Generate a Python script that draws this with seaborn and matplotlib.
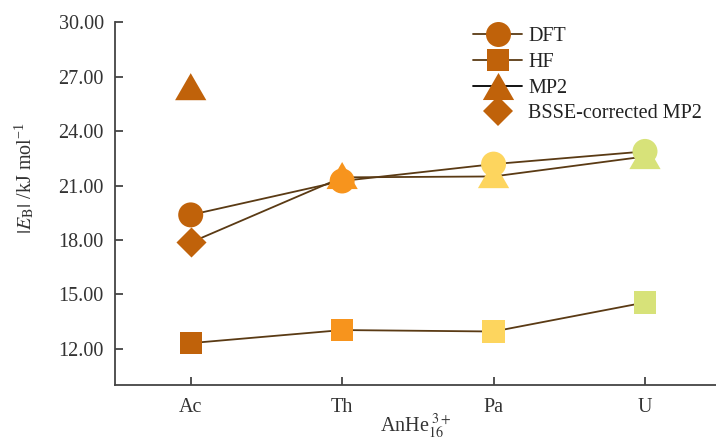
import numpy as np
import pandas as pd
import seaborn as sns
import matplotlib
matplotlib.use("Agg")
import matplotlib.pyplot as plt
from matplotlib.lines import Line2D

# Binding energies |E_B| (kJ/mol) of AnHe16(3+) clusters
elements = ["Ac", "Th", "Pa", "U"]
dft = [19.38, 21.25, 22.18, 22.88]
hf = [12.31, 13.03, 12.95, 14.55]
mp2 = [26.45, 21.55, 21.60, 22.65]
bsse_mp2_ac = 17.86          # BSSE-corrected MP2, Ac only
mp2_curve = [bsse_mp2_ac, 21.45, 21.50, 22.60]

element_colors = ["#C0620A", "#F7941D", "#FDD55E", "#D7E279"]
legend_color = "#C0620A"
line_color = "#5A3A14"

sns.set_style("ticks")
plt.rcParams["font.family"] = ["Liberation Serif", "DejaVu Serif"]
plt.rcParams["mathtext.fontset"] = "stix"

fig = plt.figure(figsize=(7.16, 4.41), dpi=100)
ax = fig.add_axes([115 / 716, 56 / 441, 605.7 / 716, 362.7 / 441])

df = pd.DataFrame({"element": elements, "DFT": dft, "HF": hf,
                   "MP2": mp2, "MP2 curve": mp2_curve})
palette = dict(zip(elements, element_colors))

# connecting lines (under the markers)
for col in ["DFT", "HF", "MP2 curve"]:
    sns.lineplot(data=df, x="element", y=col, ax=ax, sort=False,
                 estimator=None, errorbar=None, color=line_color,
                 linewidth=1.3, zorder=2, legend=False)

tri = [(-1, -0.866), (1, -0.866), (0, 0.866)]

sns.scatterplot(data=df, x="element", y="MP2", hue="element", palette=palette,
                marker=tri, s=22.5 ** 2, linewidth=0, ax=ax, zorder=3, legend=False)
sns.scatterplot(data=df, x="element", y="HF", hue="element", palette=palette,
                marker="s", s=16 ** 2, linewidth=0, ax=ax, zorder=3, legend=False)
sns.scatterplot(data=df, x="element", y="DFT", hue="element", palette=palette,
                marker="o", s=18 ** 2, linewidth=0, ax=ax, zorder=4, legend=False)
bsse_df = pd.DataFrame({"element": elements[:1], "E": [bsse_mp2_ac]})
sns.scatterplot(data=bsse_df, x="element", y="E", hue="element", palette=palette,
                marker="D", s=15.3 ** 2, linewidth=0, ax=ax, zorder=4, legend=False)

ax.set_xlim(-0.5, 3.5)
ax.set_ylim(10, 30)
ax.set_yticks(np.arange(12, 30.1, 3))
ax.set_yticklabels([f"{v:.2f}" for v in np.arange(12, 30.1, 3)])

for side in ["left", "bottom", "top", "right"]:
    ax.spines[side].set_color("#444444")
    ax.spines[side].set_linewidth(1.3)
ax.spines["top"].set_visible(False)
ax.spines["right"].set_visible(False)
ax.tick_params(axis="both", direction="in", length=6, width=1.3,
               color="#444444", labelsize=14.5, labelcolor="#333333")
ax.tick_params(axis="y", pad=8)
ax.tick_params(axis="x", pad=9)

ax.set_xlabel(r"AnHe$_{16}^{\ 3+}$", fontsize=14.5, color="#333333")
ax.xaxis.set_label_coords(0.497, -0.076)
ax.set_ylabel(r"$|E_{\mathrm{B}}|$ /kJ mol$^{\mathregular{-1}}$", fontsize=14.5,
              color="#333333")
ax.yaxis.set_label_coords(-0.128, 0.57)

handles = [
    Line2D([], [], color=line_color, lw=1.3, marker="o", markersize=18,
           markerfacecolor=legend_color, markeredgewidth=0),
    Line2D([], [], color=line_color, lw=1.3, marker="s", markersize=16,
           markerfacecolor=legend_color, markeredgewidth=0),
    Line2D([], [], color="black", lw=1.3, marker=tri, markersize=22.5,
           markerfacecolor=legend_color, markeredgewidth=0),
    Line2D([], [], lw=0, marker="D", markersize=15.3,
           markerfacecolor=legend_color, markeredgewidth=0),
]
labels = ["DFT", "HF", "MP2", "BSSE-corrected MP2"]
fig.legend(handles, labels, loc="upper left",
           bbox_to_anchor=(473 / 716, 1 - 27 / 441), frameon=False,
           fontsize=14.5, handlelength=2.45, handletextpad=0.3,
           labelspacing=0.33, borderpad=0, borderaxespad=0, labelcolor="#222222")

fig.savefig("out.png", dpi=100)
